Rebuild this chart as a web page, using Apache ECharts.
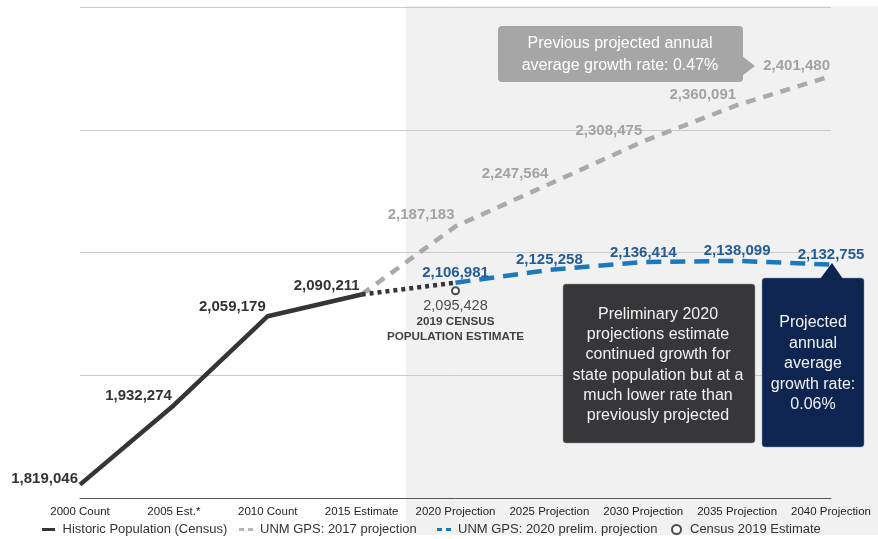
<!DOCTYPE html>
<html><head><meta charset="utf-8">
<script src="https://cdn.jsdelivr.net/npm/echarts@6/dist/echarts.min.js"></script>
<style>html,body{margin:0;padding:0;background:#fff}#c{width:878px;height:539px}</style>
</head><body><div id="c"></div>
<script>
const categories = ['2000 Count','2005 Est.*','2010 Count','2015 Estimate','2020 Projection','2025 Projection','2030 Projection','2035 Projection','2040 Projection'];
const historic = [1819046, 1932274, 2059179, 2090211, null, null, null, null, null];
const bridge = [null, null, null, 2090211, 2106981, null, null, null, null];
const proj2017 = [null, null, null, 2090211, 2187183, 2247564, 2308475, 2360091, 2401480];
const proj2020 = [null, null, null, null, 2106981, 2125258, 2136414, 2138099, 2132755];
const census2019 = [null, null, null, null, 2095428, null, null, null, null];
const yMin = 1800000, yMax = 2500000;

const FONT = '"Liberation Sans", Arial, sans-serif';
const fmt = v => v.toLocaleString('en-US');

function withLabels(arr, makeLabel) {
  return arr.map((v, i) => v == null ? null : ({ value: v, label: makeLabel(v, i) }));
}

const SOLID_ICON = 'path://M0,0L0.01,0L0.01,0.01Z M0,3.5h13v3h-13z M0,9.99L0.01,9.99L0.01,10Z';
const DASH_ICON = 'path://M0,0L0.01,0L0.01,0.01Z M0,3.5h5v3h-5z M9,3.5h5v3h-5z M0,9.99L0.01,9.99L0.01,10Z';
const legendBase = {
  top: 523, padding: 0, itemWidth: 14, itemHeight: 10,
  textStyle: { fontSize: 13, color: '#333', fontFamily: FONT, padding: [0, 0, 0, 2] }
};

const chart = echarts.init(document.getElementById('c'), null, { renderer: 'canvas' });
chart.setOption({
  animation: false,
  textStyle: { fontFamily: FONT },
  grid: { left: 80, right: 47, top: 7, bottom: 41 },
  xAxis: {
    type: 'category', data: categories, boundaryGap: false,
    axisLine: { lineStyle: { color: '#555', width: 1 } },
    axisTick: { show: false },
    axisLabel: { color: '#222', fontSize: 11.5, margin: 8, fontFamily: FONT, interval: 0 },
    splitLine: { show: false }
  },
  yAxis: [
    { type: 'value', min: yMin, max: yMax, show: false, splitLine: { show: false } },
    { type: 'value', min: 0, max: 4, interval: 1, axisLabel: { show: false }, axisLine: { show: false }, axisTick: { show: false },
      splitLine: { show: true, lineStyle: { color: '#cacaca', width: 1 } } }
  ],
  legend: [
    Object.assign({}, legendBase, { left: 42, data: [{ name: 'Historic Population (Census)', icon: SOLID_ICON, itemStyle: { color: '#353535' } }] }),
    Object.assign({}, legendBase, { left: 239, data: [{ name: 'UNM GPS: 2017 projection', icon: DASH_ICON, itemStyle: { color: '#b5b5b5' } }] }),
    Object.assign({}, legendBase, { left: 437, data: [{ name: 'UNM GPS: 2020 prelim. projection', icon: DASH_ICON, itemStyle: { color: '#1a78bd' } }] }),
    Object.assign({}, legendBase, { left: 671, itemWidth: 9, itemHeight: 9, textStyle: Object.assign({}, legendBase.textStyle, { padding: [0, 0, 0, 4] }),
      data: [{ name: 'Census 2019 Estimate', icon: 'emptyCircle', itemStyle: { color: '#222', borderColor: '#222', borderWidth: 2.5 } }] })
  ],
  graphic: [
    { type: 'rect', z: -10, silent: true, shape: { x: 406, y: 6, width: 472, height: 529 }, style: { fill: '#f1f1f1' } },
    { type: 'rect', z: 100, shape: { x: 498, y: 26, width: 245, height: 56, r: 4 }, style: { fill: '#a6a6a6' } },
    { type: 'polygon', z: 100, shape: { points: [[742, 56], [755, 66], [742, 76]] }, style: { fill: '#a6a6a6' } },
    { type: 'text', z: 101, style: { x: 620, y: 55, text: 'Previous projected annual\naverage growth rate: 0.47%', fill: '#fff', font: '16px ' + FONT, textAlign: 'center', textVerticalAlign: 'middle', lineHeight: 22 } },
    { type: 'rect', z: 100, shape: { x: 563, y: 284, width: 192, height: 159, r: 3 }, style: { fill: '#37373a', stroke: '#9a9a9a', lineWidth: 0.5 } },
    { type: 'text', z: 101, style: { x: 658, y: 365, text: 'Preliminary 2020\nprojections estimate\ncontinued growth for\nstate population but at a\nmuch lower rate than\npreviously projected', fill: '#f2f2f2', font: '16px ' + FONT, textAlign: 'center', textVerticalAlign: 'middle', lineHeight: 20.2 } },
    { type: 'rect', z: 100, shape: { x: 762, y: 278, width: 102, height: 169, r: 3 }, style: { fill: '#0d2550', stroke: '#8a94a8', lineWidth: 0.5 } },
    { type: 'polygon', z: 100, shape: { points: [[820, 279], [832, 263], [843, 279]] }, style: { fill: '#0d2550' } },
    { type: 'text', z: 101, style: { x: 813, y: 364, text: 'Projected\nannual\naverage\ngrowth rate:\n0.06%', fill: '#f2f2f2', font: '16px ' + FONT, textAlign: 'center', textVerticalAlign: 'middle', lineHeight: 20.5 } }
  ],
  series: [
    {
      name: 'Historic Population (Census)', type: 'line', yAxisIndex: 0, symbol: 'circle', symbolSize: 0, showSymbol: true, z: 5,
      lineStyle: { color: '#353535', width: 4.5 }, itemStyle: { color: '#353535' },
      data: withLabels(historic, (v, i) => ({
        show: true, position: 'left', distance: 2, offset: [0, i === 0 ? -6 : -9],
        formatter: fmt(v), color: '#333', fontWeight: 'bold', fontSize: 15, fontFamily: FONT
      }))
    },
    {
      name: 'bridge', type: 'line', yAxisIndex: 0, symbol: 'none', z: 4,
      lineStyle: { color: '#353535', width: 4.5, type: [4, 4] },
      data: bridge
    },
    {
      name: 'UNM GPS: 2017 projection', type: 'line', yAxisIndex: 0, symbol: 'circle', symbolSize: 0, showSymbol: true, z: 3,
      lineStyle: { color: '#aaaaaa', width: 4.5, type: [10, 8] }, itemStyle: { color: '#aaaaaa' },
      data: withLabels(proj2017, (v, i) => i === 3 ? { show: false } : ({
        show: true, position: 'left', distance: 1, offset: [0, i === 4 ? -12 : -10],
        formatter: fmt(v), color: '#a3a3a3', fontWeight: 'bold', fontSize: 15, fontFamily: FONT
      }))
    },
    {
      name: 'UNM GPS: 2020 prelim. projection', type: 'line', yAxisIndex: 0, symbol: 'circle', symbolSize: 0, showSymbol: true, z: 6,
      lineStyle: { color: '#1a78bd', width: 4.5, type: [15, 9] }, itemStyle: { color: '#1a78bd' },
      data: withLabels(proj2020, (v, i) => ({
        show: true, position: 'top', distance: 2,
        formatter: fmt(v), color: '#245c97', fontWeight: 'bold', fontSize: 15, fontFamily: FONT
      }))
    },
    {
      name: 'Census 2019 Estimate', type: 'scatter', yAxisIndex: 0, symbol: 'emptyCircle', symbolSize: 7, z: 7,
      itemStyle: { color: '#222', borderColor: '#222', borderWidth: 2 },
      data: withLabels(census2019, (v) => ({
        show: true, position: 'bottom', distance: 2,
        formatter: '{v|' + fmt(v) + '}\n{b|2019 CENSUS}\n{b|POPULATION ESTIMATE}',
        rich: {
          v: { fontSize: 14.5, color: '#222', lineHeight: 17, fontFamily: FONT },
          b: { fontSize: 11.7, color: '#111', fontWeight: 'bold', lineHeight: 15, fontFamily: FONT }
        }
      }))
    }
  ]
});
</script></body></html>
